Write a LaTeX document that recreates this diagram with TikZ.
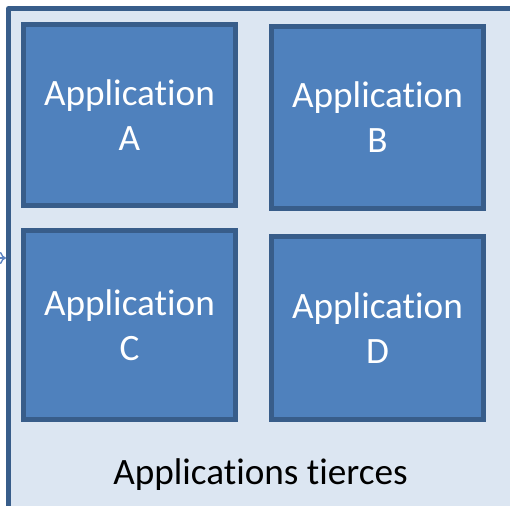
\documentclass[tikz,border=0pt]{standalone}
\usepackage{fontspec}
\setmainfont{Carlito}[Ligatures=NoCommon]
\usetikzlibrary{arrows.meta}
\definecolor{outerfill}{HTML}{DCE6F2}
\definecolor{boxfill}{HTML}{4F81BD}
\definecolor{boxline}{HTML}{385D8A}
\definecolor{arrowcol}{HTML}{5B82C0}
\tikzset{
  appbox/.style={draw=boxline, fill=boxfill, line width=5pt, minimum width=212pt,
    inner sep=0pt, align=center, text=white,
    font=\fontsize{37.2}{45}\selectfont},
  label/.style={inner sep=0pt, text=black, font=\fontsize{37.2}{45}\selectfont}
}
\begin{document}
\begin{tikzpicture}[x=1pt,y=-1pt]
\useasboundingbox (0,0) rectangle (510,505);
\clip (0,0) rectangle (510,505);
\fill[outerfill] (8.5,8.5) rectangle (600,600);
\draw[boxline, line width=5pt, line join=round] (8.5,600) -- (8.5,8.5) -- (600,8.5);
\coordinate (tail) at (-30,258);
\coordinate (tip) at (6,258);
\draw[arrowcol, line width=1.4pt, -{To[length=6pt,width=12pt]}] (tail) -- (tip);
\node[appbox, minimum height=181pt] (A) at (129.5,115) {Application\\A};
\node[appbox, minimum height=182pt] (B) at (377.5,117.5) {Application\\B};
\node[appbox, minimum height=189pt] (C) at (129.5,325) {Application\\C};
\node[appbox, minimum height=183pt] (D) at (377.5,328) {Application\\D};
\node[label] (L) at (260.5,475) {Applications tierces};
\end{tikzpicture}
\end{document}
